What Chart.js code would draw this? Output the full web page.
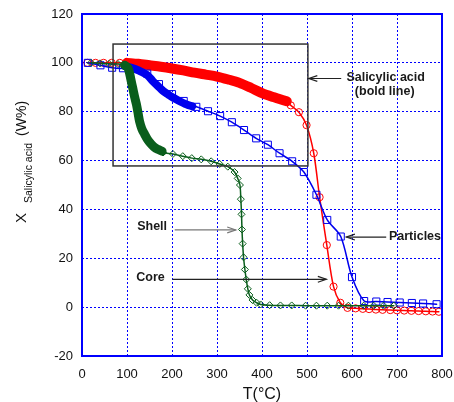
<!DOCTYPE html>
<html>
<head>
<meta charset="utf-8">
<script src="https://cdn.jsdelivr.net/npm/chart.js@4.4.0/dist/chart.umd.min.js"></script>
<style>
    html, body { margin: 0; padding: 0; background: #fff; }
    #wrap { width: 454px; height: 402px; }
</style>
</head>
<body>
<div id="wrap"><canvas id="tgaChart" width="454" height="402"></canvas></div>
<script>
"use strict";

// temperatures (°C) and salicylic acid fraction (W%)
const redMarkT = [12, 30, 48, 66, 84, 464, 482, 499, 515, 528, 544, 559, 574, 590, 608, 624, 638, 653, 668, 685, 700, 716, 732, 748, 764, 779, 793];
const redMarkX = [100, 100, 100, 100, 100, 82.6, 79.8, 74.5, 63, 45, 25.4, 8.4, 1.8, -0.3, -0.5, -0.7, -0.8, -1, -1.1, -1.2, -1.3, -1.4, -1.5, -1.6, -1.7, -1.8, -1.9];
const redBandT = [100, 125, 150, 175, 200, 225, 250, 275, 300, 325, 350, 375, 400, 425, 455];
const redBandX = [100, 99.6, 99, 98.4, 97.7, 96.9, 96, 95.2, 94.4, 93.2, 91.8, 89.8, 87.6, 86, 84.3];

const blueMarkT = [13, 41, 67, 91, 145, 171, 200, 226, 254, 280, 307, 333, 360, 387, 413, 439, 467, 493, 521, 545, 575, 600, 627, 654, 679, 706, 733, 758, 788];
const blueMarkX = [100, 99, 98, 97.8, 95.6, 91.3, 87.2, 84.4, 82, 80.2, 78.2, 75.7, 72.5, 69.1, 66.5, 63, 59.7, 55.3, 46, 35.7, 28.9, 12.3, 2.5, 2.3, 2.1, 1.9, 1.7, 1.5, 1.2];
const blueBandT = [95, 110, 128, 145, 157, 170, 180, 192, 202, 215, 232, 245];
const blueBandX = [98.7, 98, 96.7, 95, 92.6, 90.3, 88.5, 87, 85.8, 84.5, 83, 82.2];

const greenMarkT = [20, 40, 60, 80, 180, 202, 224, 244, 265, 287, 306, 324, 339, 346, 351, 353, 354.5, 355.5, 357, 359, 362, 365, 368.5, 372, 379, 388, 397, 417, 441, 466, 497, 521, 545, 570, 592, 626, 648, 670, 693];
const greenMarkX = [100, 99.8, 99.6, 99.5, 63.3, 62.7, 61.8, 61, 60.5, 59.7, 58.6, 57.5, 55.3, 52.7, 50, 44.2, 38, 31.8, 26, 20.4, 15.4, 11.3, 7.5, 5, 2.9, 1.8, 1.1, 0.8, 0.7, 0.7, 0.6, 0.6, 0.6, 0.6, 0.6, 0.6, 0.6, 0.6, 0.6];
const greenBandT = [95, 102, 106, 110, 113, 117, 121, 125, 128, 133, 139, 146, 154, 162, 170, 178];
const greenBandX = [99, 98, 95.5, 92, 89.5, 86, 83, 79, 76, 73, 70.8, 68.5, 66.7, 65.3, 64.5, 63.8];

const xTicks = [0, 100, 200, 300, 400, 500, 600, 700, 800];
const yTicks = [-20, 0, 20, 40, 60, 80, 100, 120];

// zoom box and annotation arrows, in data units
const boxT = [69, 502];
const boxX = [57.8, 107.7];
const arrowFromT = [576, 676, 206, 201];
const arrowToT = [504, 587.5, 341.6, 543];
const arrowX = [93.6, 28.7, 31.6, 11.4];
const arrowColor = ["#222", "#222", "#777", "#222"];
const noteText = ["Salicylic acid", "(bold line)", "Particles", "Shell", "Core"];
const noteT = [587.5, 672.7, 682, 189, 184];
const noteX = [94.1, 88.1, 28.7, 32.8, 12.3];
const noteAlign = ["left", "center", "left", "right", "right"];

const RED = "#ff0000";
const BLUE = "#0000ee";
const GREEN = "#0a5e1c";
const FONT = "'Liberation Sans', Arial, sans-serif";

function pts(ts, xs) {
    return ts.map((t, i) => ({ x: t, y: xs[i] }));
}

function curve(markT, markX, bandT, bandX) {
    const marks = pts(markT, markX);
    const first = bandT[0];
    const last = bandT[bandT.length - 1];
    return marks.filter(p => p.x < first)
        .concat(pts(bandT, bandX))
        .concat(marks.filter(p => p.x > last));
}

function markSet(ts, xs, color, style, radius) {
    return {
        data: pts(ts, xs),
        showLine: false,
        pointStyle: style,
        pointRadius: radius,
        pointBorderWidth: 1,
        pointBorderColor: color,
        pointBackgroundColor: "rgba(255,255,255,0)",
        borderColor: color
    };
}

function lineSet(data, color, width) {
    return {
        data: data,
        borderColor: color,
        borderWidth: width,
        pointRadius: 0,
        tension: 0.3,
        borderCapStyle: "round",
        borderJoinStyle: "round",
        fill: false
    };
}

function drawArrow(ctx, x1, y1, x2, y2, color) {
    const ang = Math.atan2(y2 - y1, x2 - x1);
    const len = 9;
    const spread = 0.33;

    ctx.strokeStyle = color;
    ctx.lineWidth = 1.2;
    ctx.beginPath();
    ctx.moveTo(x1, y1);
    ctx.lineTo(x2, y2);
    ctx.stroke();

    ctx.beginPath();
    ctx.moveTo(x2 - len * Math.cos(ang - spread), y2 - len * Math.sin(ang - spread));
    ctx.lineTo(x2, y2);
    ctx.lineTo(x2 - len * Math.cos(ang + spread), y2 - len * Math.sin(ang + spread));
    ctx.stroke();
}

const notesPlugin = {
    id: "notesPlugin",
    afterDatasetsDraw(chart) {
        const { ctx, chartArea: a } = chart;
        const sx = chart.scales.x;
        const sy = chart.scales.y;

        ctx.save();

        // zoom box
        const bx1 = sx.getPixelForValue(boxT[0]);
        const bx2 = sx.getPixelForValue(boxT[1]);
        const by1 = sy.getPixelForValue(boxX[1]);
        const by2 = sy.getPixelForValue(boxX[0]);
        ctx.strokeStyle = "#333";
        ctx.lineWidth = 1.5;
        ctx.strokeRect(bx1, by1, bx2 - bx1, by2 - by1);

        arrowFromT.forEach((t, i) => {
            const yy = sy.getPixelForValue(arrowX[i]);
            drawArrow(ctx, sx.getPixelForValue(t), yy, sx.getPixelForValue(arrowToT[i]), yy, arrowColor[i]);
        });

        ctx.fillStyle = "#1a1a1a";
        ctx.font = "bold 12.5px " + FONT;
        ctx.textBaseline = "middle";
        noteText.forEach((txt, i) => {
            ctx.textAlign = noteAlign[i];
            ctx.fillText(txt, sx.getPixelForValue(noteT[i]), sy.getPixelForValue(noteX[i]));
        });

        // plot frame
        ctx.strokeStyle = "#0000ff";
        ctx.lineWidth = 2;
        ctx.strokeRect(a.left, a.top, a.right - a.left, a.bottom - a.top);

        ctx.restore();
    },
    afterDraw(chart) {
        const { ctx, chartArea: a } = chart;

        ctx.save();
        ctx.fillStyle = "#111";
        ctx.textBaseline = "alphabetic";

        // x title
        ctx.textAlign = "center";
        ctx.font = "16px " + FONT;
        ctx.fillText("T(°C)", (a.left + a.right) / 2, a.bottom + 42.5);

        // y title with subscript
        ctx.translate(a.left - 56.5, a.bottom - 133);
        ctx.rotate(-Math.PI / 2);
        ctx.textAlign = "left";
        ctx.font = "15px " + FONT;
        ctx.fillText("X", 0, 0);
        ctx.font = "10.5px " + FONT;
        const sub = "Salicylic acid";
        ctx.fillText(sub, 20, 6);
        const next = 20 + ctx.measureText(sub).width + 7;
        ctx.font = "14px " + FONT;
        ctx.fillText("(W%)", next, 0);

        ctx.restore();
    }
};

const tgaChart = new Chart(document.getElementById("tgaChart"), {
    type: "line",
    data: {
        datasets: [
            markSet(greenMarkT, greenMarkX, GREEN, "rectRot", 3.5),
            lineSet(curve(greenMarkT, greenMarkX, greenBandT, greenBandX), GREEN, 1.5),
            lineSet(pts(greenBandT, greenBandX), GREEN, 9),
            markSet(blueMarkT, blueMarkX, BLUE, "rect", 5),
            lineSet(curve(blueMarkT, blueMarkX, blueBandT, blueBandX), BLUE, 1.5),
            lineSet(pts(blueBandT, blueBandX), BLUE, 8),
            markSet(redMarkT, redMarkX, RED, "circle", 3.6),
            lineSet(curve(redMarkT, redMarkX, redBandT, redBandX), RED, 1.5),
            lineSet(pts(redBandT, redBandX), RED, 10)
        ]
    },
    options: {
        responsive: false,
        devicePixelRatio: 1,
        animation: false,
        layout: {
            autoPadding: false,
            padding: { left: 0, right: 12, top: 14, bottom: 0 }
        },
        plugins: {
            legend: { display: false },
            tooltip: { enabled: false }
        },
        scales: {
            x: {
                type: "linear",
                min: xTicks[0],
                max: xTicks[xTicks.length - 1],
                afterBuildTicks: scale => {
                    scale.ticks = xTicks.map(v => ({ value: v }));
                },
                afterFit: scale => {
                    // fixed plot box: the layout padding alone decides the edges
                    scale.height = 46;
                    scale.paddingLeft = 0;
                    scale.paddingRight = 0;
                },
                ticks: {
                    color: "#111",
                    padding: 11,
                    maxRotation: 0,
                    font: { family: FONT, size: 13 }
                },
                grid: {
                    color: "#0000ff",
                    lineWidth: 1,
                    drawTicks: false
                },
                border: { display: false, dash: [2, 2] }
            },
            y: {
                type: "linear",
                min: yTicks[0],
                max: yTicks[yTicks.length - 1],
                afterBuildTicks: scale => {
                    scale.ticks = yTicks.map(v => ({ value: v }));
                },
                afterFit: scale => {
                    scale.width = 82;
                    scale.paddingTop = 0;
                    scale.paddingBottom = 0;
                },
                ticks: {
                    color: "#111",
                    padding: 9,
                    font: { family: FONT, size: 13 }
                },
                grid: {
                    color: "#0000ff",
                    lineWidth: 1,
                    drawTicks: false
                },
                border: { display: false, dash: [2, 2] }
            }
        }
    },
    plugins: [notesPlugin]
});
</script>
</body>
</html>
